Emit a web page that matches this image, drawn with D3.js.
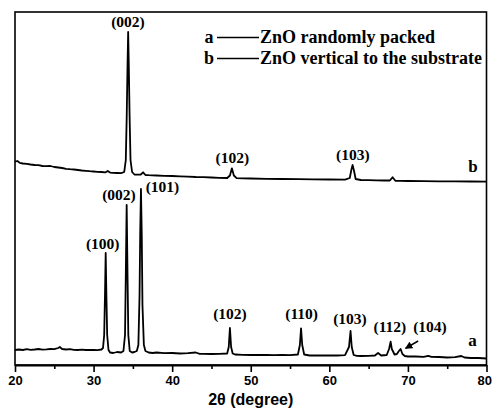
<!DOCTYPE html>
<html>
<head>
<meta charset="utf-8">
<script src="https://cdn.jsdelivr.net/npm/d3@7"></script>
<style>
  html, body { margin: 0; padding: 0; background: #fff; }
  svg { display: block; }
  .curve { fill: none; stroke: #000; stroke-width: 1.8; stroke-linejoin: round; }
  .peak { font-family: "Liberation Serif", "DejaVu Serif", "Times New Roman", serif; font-weight: bold; font-size: 15.5px; }
  .tick text { font-family: "Liberation Sans", Arial, sans-serif; font-weight: bold; font-size: 13px; }
</style>
</head>
<body>
<svg id="chart" width="492" height="409"></svg>
<script>
// ---- data (2θ in degrees, intensity in a.u.) ----
const seriesNames = ["a", "b"];
const legendText = ["ZnO randomly packed", "ZnO vertical to the substrate"];
const xTicks = [20, 30, 40, 50, 60, 70, 80];
const xMinorTicks = [25, 35, 45, 55, 65, 75];

// a: randomly packed ZnO
const seriesA = [
  [20.0, 150], [20.5, 155], [21.0, 150], [21.5, 158], [22.0, 152], [22.5, 155],
  [23.0, 160], [23.5, 154], [24.0, 156], [24.5, 160], [25.0, 158], [25.5, 170],
  [25.7, 180], [26.0, 160], [26.5, 155], [27.0, 158], [27.5, 152], [28.0, 150],
  [28.5, 154], [29.0, 150], [29.5, 152], [30.0, 150], [30.5, 148], [31.0, 155],
  [31.2, 170], [31.35, 300], [31.45, 700], [31.54, 1120], [31.63, 700], [31.73, 300],
  [31.9, 150], [32.1, 125], [32.5, 120], [33.0, 130], [33.5, 125], [33.8, 140],
  [34.0, 300], [34.1, 900], [34.21, 1600], [34.32, 900], [34.42, 300], [34.6, 140],
  [34.9, 125], [35.2, 130], [35.5, 140], [35.7, 200], [35.85, 700], [35.93, 1300],
  [36.03, 1760], [36.13, 1300], [36.22, 600], [36.4, 200], [36.6, 140], [37.0, 125],
  [37.5, 120], [38.0, 125], [39.0, 118], [40.0, 120], [41.0, 115], [42.0, 118],
  [43.0, 125], [43.5, 112], [44.0, 112], [45.0, 110], [46.0, 112], [47.0, 115],
  [47.2, 180], [47.35, 370], [47.5, 180], [47.7, 115], [48.0, 105], [49.0, 102],
  [50.0, 100], [51.0, 102], [52.0, 100], [53.0, 98], [54.0, 100], [55.0, 98],
  [56.0, 105], [56.25, 200], [56.4, 367], [56.55, 200], [56.8, 105], [57.5, 95],
  [58.0, 95], [59.0, 97], [60.0, 95], [61.0, 95], [62.0, 98], [62.5, 180],
  [62.7, 340], [62.85, 180], [63.1, 100], [63.5, 92], [64.0, 90], [65.0, 92],
  [65.8, 95], [66.2, 120], [66.6, 95], [67.3, 100], [67.6, 160], [67.8, 233],
  [67.95, 160], [68.3, 105], [68.6, 110], [68.85, 140], [69.07, 160], [69.3, 110],
  [69.6, 90], [70.0, 85], [71.0, 85], [72.0, 82], [72.6, 92], [73.0, 82],
  [74.0, 80], [75.0, 75], [76.0, 78], [76.8, 90], [77.2, 75], [78.0, 70],
  [79.0, 70], [80.0, 65]
];

// b: ZnO vertical to the substrate
const seriesB = [
  [20.0, 2033], [20.3, 2040], [20.6, 2022], [21.0, 2015], [21.5, 2012], [22.0, 2005],
  [22.5, 2000], [23.0, 1998], [23.5, 1990], [24.0, 1988], [24.5, 1990], [25.0, 1980],
  [25.5, 1975], [26.0, 1970], [26.5, 1962], [27.0, 1958], [27.5, 1955], [28.0, 1950],
  [28.5, 1945], [29.0, 1942], [29.5, 1938], [30.0, 1935], [30.5, 1932], [31.0, 1930],
  [31.5, 1926], [31.8, 1940], [32.1, 1924], [32.5, 1922], [33.0, 1920], [33.5, 1918],
  [33.9, 1930], [34.1, 2050], [34.22, 2500], [34.32, 3000], [34.4, 3330], [34.48, 3000],
  [34.58, 2500], [34.7, 2050], [34.9, 1930], [35.2, 1905], [35.6, 1903], [36.0, 1905],
  [36.3, 1927], [36.6, 1900], [37.0, 1898], [38.0, 1895], [39.0, 1892], [40.0, 1890],
  [41.0, 1887], [42.0, 1884], [43.0, 1880], [44.0, 1878], [45.0, 1875], [46.0, 1872],
  [47.0, 1870], [47.35, 1895], [47.6, 1967], [47.85, 1895], [48.2, 1868], [49.0, 1866],
  [50.0, 1865], [52.0, 1862], [54.0, 1860], [56.0, 1858], [58.0, 1856], [60.0, 1855],
  [62.0, 1853], [62.6, 1870], [62.8, 1950], [62.96, 2000], [63.12, 1950], [63.35, 1860],
  [64.0, 1850], [65.0, 1848], [66.0, 1846], [67.0, 1845], [67.7, 1845], [68.05, 1877],
  [68.4, 1842], [69.0, 1841], [70.0, 1840], [72.0, 1838], [74.0, 1837], [76.0, 1836],
  [78.0, 1835], [80.0, 1833]
];

// peak labels: [text, 2θ, intensity where the label sits]
const peakLabels = [
  ["(002)", 34.38, 3380], ["(102)", 47.65, 2020], ["(103)", 63.0, 2050],
  ["(100)", 31.16, 1160], ["(002)", 33.23, 1650], ["(101)", 38.77, 1730],
  ["(102)", 47.35, 460], ["(110)", 56.48, 460], ["(103)", 62.62, 410],
  ["(112)", 67.71, 330], ["(104)", 72.8, 330]
];
// curve letters at the right end
const curveTags = [["a", 78.23, 190], ["b", 78.27, 1930]];
// arrow pointing at the (104) peak: [from 2θ, from I, to 2θ, to I]
const arrow104 = [71.3, 240, 69.7, 167];

// ---- layout ----
const svg = d3.select("#chart");
const MARGIN = { LEFT: 15, RIGHT: 5.5, TOP: 12, BOTTOM: 44 };
const WIDTH = 492, HEIGHT = 409;

const x = d3.scaleLinear()
  .domain([20, 80])
  .range([MARGIN.LEFT, WIDTH - MARGIN.RIGHT]);
const y = d3.scaleLinear()
  .domain([0, 3530])
  .range([HEIGHT - MARGIN.BOTTOM, MARGIN.TOP]);

// frame
svg.append("rect")
  .attr("x", x(20))
  .attr("y", y(3530))
  .attr("width", x(80) - x(20))
  .attr("height", y(0) - y(3530))
  .attr("fill", "none")
  .attr("stroke", "#000")
  .attr("stroke-width", 1.6);

// minor ticks first, then major ticks with labels
svg.append("g")
  .attr("transform", `translate(0,${y(0)})`)
  .call(d3.axisBottom(x).tickValues(xMinorTicks).tickSize(4).tickFormat(""))
  .call((g) => g.select(".domain").remove())
  .selectAll("line").attr("stroke-width", 1.6);

const xAxis = svg.append("g")
  .attr("transform", `translate(0,${y(0)})`)
  .call(d3.axisBottom(x).tickValues(xTicks).tickSize(7).tickSizeOuter(0).tickPadding(4).tickFormat(d3.format("d")));
xAxis.select(".domain").attr("stroke-width", 2);
xAxis.selectAll(".tick line").attr("stroke-width", 1.6);
// the last label sits against the right edge of the picture
xAxis.selectAll(".tick text")
  .filter((d) => d === 80)
  .attr("text-anchor", "end")
  .attr("dx", WIDTH - 0.5 - x(80));

svg.append("text")
  .attr("x", (x(20) + x(80)) / 2)
  .attr("y", 405)
  .attr("text-anchor", "middle")
  .style("font-family", "'Liberation Sans', Arial, sans-serif")
  .style("font-weight", "bold")
  .style("font-size", "16px")
  .text("2θ (degree)");

// curves
const line = d3.line()
  .x((d) => x(d[0]))
  .y((d) => y(d[1]));

[seriesA, seriesB].forEach((s) => {
  svg.append("path")
    .datum(s)
    .attr("class", "curve")
    .attr("d", line);
});

// peak labels
svg.selectAll("text.peak")
  .data(peakLabels)
  .join("text")
  .attr("class", "peak")
  .attr("x", (d) => x(d[1]))
  .attr("y", (d) => y(d[2]))
  .attr("text-anchor", "middle")
  .text((d) => d[0]);

svg.selectAll("text.tag")
  .data(curveTags)
  .join("text")
  .attr("class", "peak tag")
  .attr("x", (d) => x(d[1]))
  .attr("y", (d) => y(d[2]))
  .attr("text-anchor", "middle")
  .style("font-size", "17px")
  .text((d) => d[0]);

// arrow to (104)
svg.append("defs")
  .append("marker")
  .attr("id", "head")
  .attr("viewBox", "0 0 10 10")
  .attr("refX", 9)
  .attr("refY", 5)
  .attr("markerWidth", 5)
  .attr("markerHeight", 5)
  .attr("orient", "auto")
  .append("path")
  .attr("d", "M0,0 L10,5 L0,10 Z")
  .attr("fill", "#000");

svg.append("line")
  .attr("x1", x(arrow104[0]))
  .attr("y1", y(arrow104[1]))
  .attr("x2", x(arrow104[2]))
  .attr("y2", y(arrow104[3]))
  .attr("stroke", "#000")
  .attr("stroke-width", 1.5)
  .attr("marker-end", "url(#head)");

// legend
const legend = svg.append("g").attr("class", "legend");
seriesNames.forEach((name, i) => {
  const rowY = 43 + i * 21;
  legend.append("text")
    .attr("class", "peak")
    .attr("x", 209)
    .attr("y", rowY)
    .attr("text-anchor", "middle")
    .style("font-size", "18px")
    .text(name);
  legend.append("line")
    .attr("x1", 217)
    .attr("x2", 259)
    .attr("y1", rowY - 5.5)
    .attr("y2", rowY - 5.5)
    .attr("stroke", "#000")
    .attr("stroke-width", 1.5);
  legend.append("text")
    .attr("class", "peak")
    .attr("x", 260)
    .attr("y", rowY)
    .style("font-size", "18px")
    .text(legendText[i]);
});
</script>
</body>
</html>
